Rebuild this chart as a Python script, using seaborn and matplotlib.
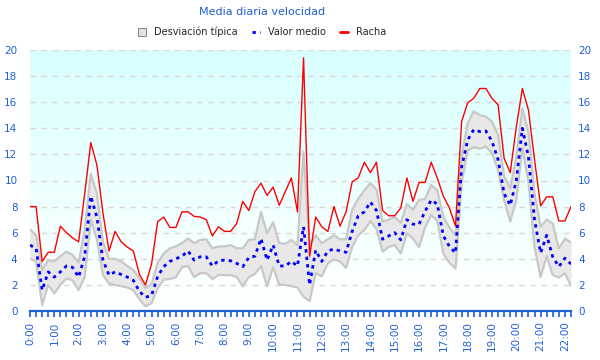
import numpy as np
import pandas as pd
import seaborn as sns
import matplotlib
matplotlib.use("Agg")
import matplotlib.pyplot as plt
from matplotlib.colors import LinearSegmentedColormap
from matplotlib.patches import Patch
from matplotlib.lines import Line2D

# datos cada 15 minutos, 0:00 -> 22:15
minutos = np.arange(0, 22 * 60 + 30, 15)

racha = [8.0, 8.0, 3.8, 4.5, 4.5, 6.5, 6.0, 5.6, 5.3, 9.0,
         12.9, 11.2, 7.5, 4.6, 6.1, 5.3, 4.9, 4.6, 2.8, 2.0,
         3.6, 6.85, 7.2, 6.4, 6.4, 7.6, 7.6, 7.25, 7.2, 7.0,
         5.75, 6.45, 6.1, 6.1, 6.7, 8.4, 7.7, 9.15, 9.8, 8.85,
         9.5, 8.1, 9.15, 10.2, 7.6, 19.4, 4.2, 7.2, 6.45, 6.1,
         8.0, 6.5, 7.6, 9.9, 10.2, 11.4, 10.6, 11.4, 7.7, 7.3,
         7.3, 7.9, 10.2, 8.4, 9.85, 9.85, 11.4, 10.2, 8.8, 7.9,
         6.5, 14.5, 15.95, 16.3, 17.05, 17.05, 16.3, 15.8, 11.7, 10.6,
         14.1, 17.05, 15.4, 11.6, 8.05, 8.75, 8.75, 6.9, 6.9, 8.0]

medio = [5.05, 4.8, 1.6, 3.0, 2.6, 3.0, 3.45, 3.35, 2.6, 4.2,
         8.8, 7.2, 3.9, 2.75, 3.0, 2.8, 2.6, 2.35, 1.5, 1.05,
         1.2, 2.65, 3.4, 3.8, 4.0, 4.2, 4.6, 3.9, 4.15, 4.15,
         3.45, 3.85, 3.9, 3.85, 3.65, 3.4, 4.1, 4.2, 5.55, 3.9,
         5.05, 3.45, 3.45, 3.8, 3.45, 6.45, 2.0, 4.65, 3.8, 4.6,
         4.75, 4.6, 4.5, 6.1, 7.3, 7.6, 8.35, 7.7, 5.5, 5.75,
         6.0, 5.45, 7.0, 6.65, 6.65, 7.65, 8.5, 8.2, 5.75, 4.95,
         4.45, 11.0, 13.1, 13.9, 13.75, 13.8, 13.0, 11.6, 9.0, 8.1,
         10.0, 14.0, 11.8, 7.0, 4.45, 5.8, 4.15, 3.4, 4.05, 3.6]

desv_sup = [6.25, 5.8, 3.15, 3.9, 3.8, 4.2, 4.55, 4.3, 3.7, 6.2,
            10.5, 9.0, 5.3, 4.0, 4.0, 3.8, 3.45, 3.15, 2.5, 1.75,
            2.05, 3.7, 4.4, 4.8, 4.95, 5.2, 5.55, 5.2, 5.45, 5.5,
            4.8, 4.95, 4.95, 5.05, 4.8, 4.8, 5.45, 5.5, 7.6, 5.95,
            6.8, 5.2, 5.15, 5.45, 5.05, 12.2, 5.0, 5.8, 5.2, 5.5,
            5.8, 5.5, 5.5, 7.75, 8.6, 9.25, 9.8, 9.3, 6.85, 7.0,
            7.2, 6.75, 8.2, 7.75, 8.5, 8.6, 9.65, 9.25, 7.2, 6.4,
            5.8, 11.8, 14.4, 15.3, 15.0, 14.9, 14.5, 13.5, 10.3, 9.4,
            11.8, 15.5, 13.7, 9.0, 6.45, 7.0, 6.7, 4.8, 5.55, 5.25]

desv_inf = [4.0, 3.8, 0.45, 2.0, 1.35, 2.0, 2.5, 2.35, 1.6, 2.6,
            7.0, 5.5, 2.75, 2.1, 2.0, 1.9, 1.8, 1.6, 0.9, 0.35,
            0.6, 1.75, 2.4, 2.45, 2.6, 3.35, 3.45, 2.6, 2.9, 2.9,
            2.45, 2.75, 2.75, 2.75, 2.6, 1.9, 2.6, 2.85, 3.45, 1.9,
            3.35, 2.0, 2.0, 1.9, 1.8, 1.1, 0.75, 2.9, 2.65, 3.65,
            3.95, 3.8, 3.3, 4.9, 5.8, 6.2, 6.9, 6.3, 4.55, 4.9,
            5.05, 4.4, 5.95, 5.55, 4.9, 6.4, 7.35, 6.9, 4.4, 3.7,
            3.25, 9.8, 12.3, 12.55, 12.45, 12.6, 12.1, 10.8, 8.5, 6.85,
            8.5, 12.5, 9.9, 4.9, 2.6, 4.2, 2.75, 2.55, 2.9, 1.9]

horas_etiquetas = [f"{h}:00" for h in range(23)]

df = pd.DataFrame({"hora": minutos / 60, "racha": racha, "medio": medio,
                   "sup": desv_sup, "inf": desv_inf})

azul_texto = "#1f5fd6"

sns.set_style("white")
plt.rcParams["font.family"] = ["DejaVu Sans"]

fig = plt.figure(figsize=(6, 3.6), dpi=100)
ax = fig.add_axes([30 / 600, 49 / 360, 541 / 600, 261 / 360])

xmax = df["hora"].iloc[-1]

# fondo degradado
fondo = LinearSegmentedColormap.from_list("fondo", ["#ffffff", "#d8ffff"])
ax.imshow(np.linspace(0, 1, 256).reshape(-1, 1), cmap=fondo, origin="lower",
          extent=[0, xmax, 0, 20], aspect="auto", zorder=0)

ax.fill_between(df["hora"], df["inf"], df["sup"], color="#e8e8e8", lw=0, zorder=2)
ax.plot(df["hora"], df["sup"], color="#c8c8c8", lw=1.6, zorder=2)
ax.plot(df["hora"], df["inf"], color="#c8c8c8", lw=1.6, zorder=2)

sns.lineplot(data=df, x="hora", y="medio", ax=ax, color="#0000ff", lw=2,
             linestyle=(0, (1.2, 1.5)), zorder=3)
sns.lineplot(data=df, x="hora", y="racha", ax=ax, color="#ff0000", lw=1, zorder=4)

ax.set_xlim(0, xmax)
ax.set_ylim(0, 20)
ax.set_xlabel("")
ax.set_ylabel("")

ax.set_xticks(range(23))
ax.set_xticklabels(horas_etiquetas, rotation=90, color=azul_texto, fontsize=7.5)
ax.set_xticks(np.arange(0, xmax + 0.01, 0.25), minor=True)
ax.tick_params(axis="x", which="both", direction="out", length=4.5, width=1.2,
               color=azul_texto, bottom=True, pad=3)

ax.set_yticks(range(0, 21, 2))
ax.tick_params(axis="y", left=False, right=False, length=0, labelleft=True,
               labelright=False, labelcolor=azul_texto, labelsize=7.5, pad=9)

ax.set_axisbelow(True)
ax.yaxis.grid(True, color="#ddd6d6", lw=1, linestyle=(0, (4, 4)))
ax.xaxis.grid(False)

for s in ["top", "left", "right"]:
    ax.spines[s].set_visible(False)
ax.spines["bottom"].set_color(azul_texto)
ax.spines["bottom"].set_linewidth(1.6)
ax.spines["bottom"].set_zorder(5)

# etiquetas del eje derecho
ax2 = ax.twinx()
ax2.set_ylim(0, 20)
ax2.set_yticks(range(0, 21, 2))
ax2.tick_params(axis="y", right=False, length=0, labelcolor=azul_texto,
                labelsize=7.5, pad=5)
ax2.grid(False)
for s in ax2.spines.values():
    s.set_visible(False)

fig.text(262 / 600, 1 - 12 / 360, "Media diaria velocidad", ha="center", va="center",
         color=azul_texto, fontsize=8)

handles = [Patch(facecolor="#e4e4e4", edgecolor="#8c8c8c", lw=0.8),
           Line2D([], [], color="#0000ff", lw=2, linestyle=(0, (1.2, 1.5))),
           Line2D([], [], color="#ff0000", lw=2)]
fig.legend(handles, ["Desviación típica", "Valor medio", "Racha"], loc="center",
           bbox_to_anchor=(262 / 600, 1 - 32 / 360), ncol=3, frameon=False, fontsize=7,
           handlelength=0.8, handleheight=0.8, columnspacing=1.5, handletextpad=0.8)

fig.savefig("out.png", dpi=100)
